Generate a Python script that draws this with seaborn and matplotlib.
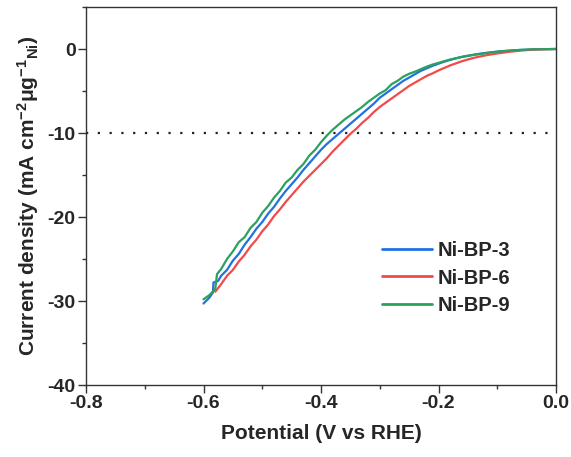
import numpy as np
import pandas as pd
import matplotlib
matplotlib.use("Agg")
import matplotlib.pyplot as plt
from matplotlib.ticker import AutoMinorLocator, FormatStrFormatter
import seaborn as sns

# ---------------- data ----------------
samples = ["Ni-BP-3", "Ni-BP-6", "Ni-BP-9"]

x_bp3 = [-0.600, -0.590, -0.584, -0.583, -0.575, -0.570, -0.560, -0.550, -0.540, -0.530,
         -0.520, -0.510, -0.500, -0.490, -0.480, -0.470, -0.460, -0.450, -0.440, -0.430,
         -0.420, -0.410, -0.400, -0.390, -0.380, -0.370, -0.360, -0.350, -0.340, -0.330,
         -0.320, -0.310, -0.300, -0.290, -0.280, -0.270, -0.260, -0.250, -0.240, -0.230,
         -0.220, -0.210, -0.200, -0.190, -0.180, -0.170, -0.160, -0.150, -0.140, -0.130,
         -0.120, -0.110, -0.100, -0.090, -0.080, -0.070, -0.060, -0.050, -0.040, -0.030,
         -0.020, -0.010, 0.000]
j_bp3 = [-30.3, -29.6, -29.0, -27.8, -27.6, -27.0, -26.3, -25.2, -24.4, -23.3,
         -22.4, -21.4, -20.6, -19.6, -18.8, -17.8, -16.9, -16.1, -15.3, -14.4,
         -13.6, -12.8, -12.0, -11.3, -10.7, -10.1, -9.5, -8.9, -8.3, -7.7,
         -7.1, -6.5, -5.8, -5.3, -4.8, -4.3, -3.8, -3.4, -3.0, -2.6,
         -2.3, -2.0, -1.75, -1.5, -1.3, -1.1, -0.93, -0.8, -0.68, -0.57,
         -0.47, -0.39, -0.32, -0.25, -0.2, -0.15, -0.11, -0.08, -0.05, -0.03,
         -0.02, -0.01, 0.0]

x_bp6 = [-0.580, -0.570, -0.560, -0.550, -0.540, -0.530, -0.520, -0.510, -0.500, -0.490,
         -0.480, -0.470, -0.460, -0.450, -0.440, -0.430, -0.420, -0.410, -0.400, -0.390,
         -0.380, -0.370, -0.360, -0.350, -0.340, -0.330, -0.320, -0.310, -0.300, -0.290,
         -0.280, -0.270, -0.260, -0.250, -0.240, -0.230, -0.220, -0.210, -0.200, -0.190,
         -0.180, -0.170, -0.160, -0.150, -0.140, -0.130, -0.120, -0.110, -0.100, -0.090,
         -0.080, -0.070, -0.060, -0.050, -0.040, -0.030, -0.020, -0.010, 0.000]
j_bp6 = [-28.9, -28.0, -27.0, -26.3, -25.3, -24.5, -23.5, -22.7, -21.7, -20.9,
         -19.9, -19.1, -18.2, -17.4, -16.6, -15.8, -15.1, -14.4, -13.7, -13.0,
         -12.2, -11.5, -10.8, -10.1, -9.5, -8.8, -8.2, -7.5, -6.9, -6.4,
         -5.9, -5.4, -4.9, -4.4, -4.0, -3.6, -3.2, -2.9, -2.55, -2.25,
         -1.95, -1.7, -1.45, -1.25, -1.06, -0.9, -0.76, -0.64, -0.53, -0.43,
         -0.34, -0.26, -0.19, -0.13, -0.08, -0.05, -0.03, -0.01, 0.0]

x_bp9 = [-0.600, -0.590, -0.580, -0.577, -0.570, -0.560, -0.550, -0.540, -0.530, -0.520,
         -0.510, -0.500, -0.490, -0.480, -0.470, -0.460, -0.450, -0.440, -0.430, -0.420,
         -0.410, -0.400, -0.390, -0.380, -0.370, -0.360, -0.350, -0.340, -0.330, -0.320,
         -0.310, -0.300, -0.290, -0.280, -0.270, -0.260, -0.250, -0.240, -0.230, -0.220,
         -0.210, -0.200, -0.190, -0.180, -0.170, -0.160, -0.150, -0.140, -0.130, -0.120,
         -0.110, -0.100, -0.090, -0.080, -0.070, -0.060, -0.050, -0.040, -0.030, -0.020,
         -0.010, 0.000]
j_bp9 = [-29.8, -29.3, -28.6, -26.8, -26.2, -25.0, -24.1, -23.0, -22.4, -21.3,
         -20.6, -19.5, -18.7, -17.7, -16.9, -15.9, -15.3, -14.4, -13.7, -12.7,
         -12.0, -11.1, -10.3, -9.6, -9.0, -8.4, -7.9, -7.4, -6.9, -6.3,
         -5.8, -5.3, -4.9, -4.2, -3.8, -3.3, -2.95, -2.7, -2.4, -2.1,
         -1.85, -1.65, -1.45, -1.25, -1.1, -0.95, -0.82, -0.7, -0.6, -0.5,
         -0.4, -0.32, -0.26, -0.2, -0.15, -0.11, -0.08, -0.05, -0.03, -0.02,
         -0.01, 0.0]

ref_level = -10
x_ticks = [-0.8, -0.6, -0.4, -0.2, 0.0]
y_ticks = [-40, -30, -20, -10, 0]

# ---------------- styling ----------------
sns.set_style("ticks")
plt.rcParams.update({
    "font.family": ["Liberation Sans", "DejaVu Sans"],
    "font.weight": "bold",
    "axes.unicode_minus": False,
    "mathtext.fontset": "custom",
    "mathtext.rm": "Liberation Sans:bold",
    "mathtext.it": "Liberation Sans:bold",
    "mathtext.bf": "Liberation Sans:bold",
    "mathtext.default": "rm",
})

colors = {"Ni-BP-3": "#2171e3", "Ni-BP-6": "#f24a4a", "Ni-BP-9": "#2aa25e"}

frames = []
for name, xs, js in zip(samples, [x_bp3, x_bp6, x_bp9], [j_bp3, j_bp6, j_bp9]):
    frames.append(pd.DataFrame({"Potential": xs, "J": js, "Sample": name}))
df = pd.concat(frames, ignore_index=True)

fig = plt.figure(figsize=(5.71, 4.57), dpi=100)
ax = fig.add_axes([86 / 571, 72 / 457, 470 / 571, 378 / 457])

sns.lineplot(data=df, x="Potential", y="J", hue="Sample", hue_order=samples,
             palette=colors, estimator=None, sort=False, linewidth=1.6, ax=ax)

ax.axhline(ref_level, color="#222222", linewidth=1.6, linestyle=(0, (1, 4.3)), zorder=1)

ax.set_xlim(-0.8, 0.0)
ax.set_ylim(-40, 5)
ax.set_xticks(x_ticks)
ax.set_yticks(y_ticks)
ax.xaxis.set_minor_locator(AutoMinorLocator(2))
ax.yaxis.set_minor_locator(AutoMinorLocator(2))
ax.xaxis.set_major_formatter(FormatStrFormatter("%.1f"))
ax.yaxis.set_major_formatter(FormatStrFormatter("%d"))

for s in ax.spines.values():
    s.set_visible(True)
    s.set_color("#333333")
    s.set_linewidth(1.0)

ax.tick_params(which="major", direction="out", length=5.5, width=1.0, color="#333333",
               pad=2, labelsize=14, top=False, right=False)
ax.tick_params(which="minor", direction="out", length=3, width=1.0, color="#333333",
               top=False, right=False)
for lab in ax.get_xticklabels() + ax.get_yticklabels():
    lab.set_fontweight("bold")

ax.set_xlabel("Potential (V vs RHE)", fontsize=15, fontweight="bold", labelpad=8)
ax.set_ylabel("Current density (mA cm$^{-2}$μg$^{-1}$$_{Ni}$)", fontsize=15,
              fontweight="bold", labelpad=5)

leg = ax.legend(loc="center left", bbox_to_anchor=(0.629, 0.283), frameon=False,
                prop={"size": 14.5, "weight": "bold"}, handlelength=2.5,
                handletextpad=0.3, labelspacing=0.42, borderpad=0, borderaxespad=0)
for line in leg.get_lines():
    line.set_linewidth(2.0)

fig.savefig("out.png", dpi=100)
